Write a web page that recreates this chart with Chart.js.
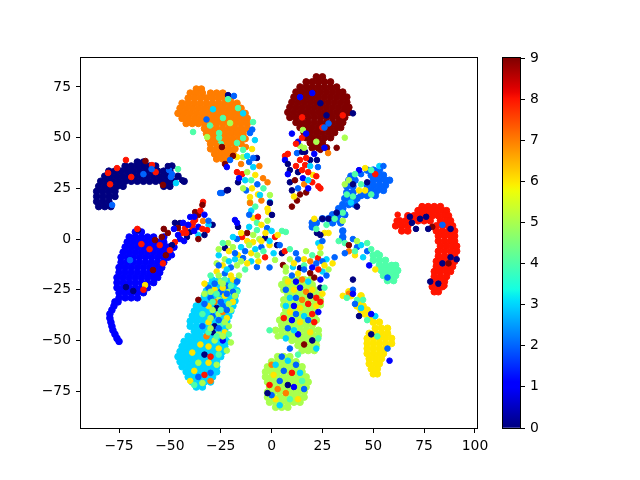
<!DOCTYPE html>
<html>
<head>
<meta charset="utf-8">
<script src="https://cdn.jsdelivr.net/npm/chart.js@4"></script>
<style>
  body { margin: 0; background: #fff; }
  canvas { position: absolute; left: 0; top: 0; }
</style>
</head>
<body>
<canvas id="scatter" width="640" height="480"></canvas>
<canvas id="colorbar" width="640" height="480"></canvas>
<script>
var xTicks = [-75,-50,-25,0,25,50,75,100];
var yTicks = [-75,-50,-25,0,25,50,75];
var barTicks = [0,1,2,3,4,5,6,7,8,9];

// dense part of each class, one row per line: y first, then the x values on it
var core0 = [[16,-85,-82,-79],[18.5,-86,-83,-80],[21,-86,-83,-80,-77],[23.5,-86,-83,-80,-77],[26,-85,-82,-79,-76,-73,-53,-50],[28.5,-84,-81,-78,-75,-72,-69,-66,-63,-60,-57,-54,-51,-48,-43],[31,-82,-79,-76,-73,-70,-67,-64,-61,-58,-55,-52,-46],[33.5,-80,-77,-74,-71,-68,-65,-62,-59,-56,-53,-50],[36,-72,-69,-66,-63,-60,-57,-49],[38,-66,-63]];
var core1 = [[3.5,-67,-64],[1,-70,-67,-64,-61,-58,-53],[-1.5,-71,-68,-65,-62,-59,-56,-53],[-4,-72,-69,-66,-63,-60,-57,-54,-51,-48],[-6.5,-73,-70,-67,-64,-61,-58,-55,-52,-50],[-9,-74,-71,-68,-65,-62,-59,-56,-53,-51],[-11.5,-74,-71,-68,-65,-62,-59,-56,-53],[-14,-75,-72,-69,-66,-63,-60,-57,-54],[-16.5,-75,-72,-69,-66,-63,-60,-57,-55],[-19,-76,-73,-70,-67,-64,-61,-58,-56],[-21.5,-76,-73,-70,-67,-64,-61,-58],[-24,-76,-73,-70,-67,-64,-61],[-26.5,-75,-72,-69,-66,-63],[-29,-75,-72,-69,-66],[-31,-77,-75.5],[-33,-77.5],[-35,-78.5],[-37,-79.5],[-39,-79.5],[-41,-79],[-43,-78.5],[-45,-78],[-47,-77],[-49,-76],[-50.5,-75]];
var core2 = [[34,47,50,53],[31.5,49,52,55],[29,50,53,56,58],[26.5,47,50,53,56],[24,49,52,55],[21.5,44,47,51],[31,39],[29,41,38],[26,40,37],[23,40,37],[20,36,39,42],[17,35,38,41],[15,35,33],[12,30,33,36],[10,25,28,32],[8,20,22,30,34],[6,20],[4,35],[1,35]];
var core3 = [[-73,-37,-34],[-70.5,-39,-36,-33,-30],[-68,-41,-38,-35,-32,-29],[-65.5,-42,-39,-36,-33,-30,-27],[-63,-44,-41,-38,-35,-32,-29,-27],[-60.5,-45,-42,-39,-36,-33,-30,-27],[-58,-46,-43,-40,-37,-34,-31,-28,-25],[-55.5,-45,-42,-39,-36,-33,-30,-27,-24],[-53,-44,-41,-38,-35,-32,-29,-26,-23],[-50.5,-43,-40,-37,-34,-31,-28,-25,-22],[-48,-41,-38,-35,-32,-29,-26,-23],[-45.5,-38,-35,-32,-29,-26,-23],[-43,-40,-37,-34,-31,-28,-25,-22],[-40.5,-40,-37,-34,-31,-28,-25,-22],[-38,-39,-36,-33,-30,-27,-24,-21],[-35.5,-38,-35,-32,-29,-26,-23,-20],[-33,-37,-34,-31,-28,-25,-22,-19],[-30.5,-35,-32,-29,-26,-23,-20,-18],[-28,-33,-30,-27,-24,-21,-18],[-25.5,-32,-29,-26,-23,-20,-17],[-23,-31,-28,-25,-22,-19],[-20.5,-29,-26,-23,-20,-17]];
var core4 = [[-8,50,53],[-10.5,50,53,56],[-13,53,56,59,61],[-15.5,54,57,60,62],[-18,55,58,61],[-20.5,57,60]];
var core5 = [[-83,2,5,8],[-80.5,-1,2,5,8,11,14],[-78,-2,1,4,7,10,13,16],[-75.5,-2,1,4,7,10,13,16],[-73,-1,2,5,8,11,14,17],[-70.5,-2,1,4,7,10,13,16,18],[-68,-3,0,3,6,9,12,15,17],[-65.5,-3,0,3,6,9,12,15],[-63,-2,1,4,7,10,13,15],[-60.5,0,3,6,9,12],[-58,3,6,9],[-55,15,18,21],[-52.5,13,16,19,22],[-50,10,13,16,19,22],[-47.5,5,8,11,14,17,20,23],[-45,2,5,8,11,14,17,20,23],[-42.5,5,8,11,14,17,20],[-40,4,7,10,13,16,19,22],[-37.5,6,9,12,15,18,21],[-35,7,10,13,16,19,21],[-32.5,6,9,12,15,18,21,24],[-30,6,9,12,15,18,21,24],[-27.5,8,11,14,17,20,23],[-25,6,9,12,15,18,21],[-22.5,5,8,11,14,17,20],[-20,7,10,13,16,19]];
var core6 = [[-44,51,54,57],[-46.5,48,51,54,57],[-49,47,50,53,56,59],[-51.5,47,50,53,56,59],[-54,47,50,53,56],[-56.5,47,50,53,55],[-59,48,51,54],[-61.5,48,51,53],[-64,49,52],[-66.5,50,52],[-41,50,53],[-39,49],[-37,48,46],[-35,47,44],[-33,45,42],[-31,43],[-28,44,39],[-26,38]];
var core7 = [[74,-37,-34.5],[72,-40,-37,-34,-30,-27,-24],[69.5,-41,-38,-35,-32,-29,-26,-23,-20],[67,-44,-41,-38,-35,-32,-29,-26,-23,-20,-17],[64.5,-45,-42,-39,-36,-33,-30,-27,-24,-21,-18,-15],[62,-46,-43,-40,-37,-34,-31,-28,-25,-22,-19,-16,-13],[59.5,-44,-41,-38,-35,-32,-29,-26,-23,-20,-17,-14,-12],[57,-42,-39,-36,-33,-30,-27,-24,-21,-18,-15,-12],[54.5,-33,-30,-27,-24,-21,-18,-15,-12],[52,-32,-29,-26,-23,-20,-17,-14],[49.5,-31,-28,-25,-22,-19,-16,-13],[47,-30,-27,-24,-21,-18,-15],[44.5,-30,-27,-24,-21,-18],[42,-28,-25,-22,-19],[39.5,-27,-24,-21]];
var core8 = [[16,74,77,80,83],[14,72,75,78,81,84,86],[11.5,67,70,73,76,79,82,85,87],[9,63,66,69,72,75,78,83,86,88],[6.5,61,64,67,81,84,87,89],[4,64,67,81,84,87,90],[1.5,82,85,88,90],[-1,82,85,88,90],[-3.5,83,86,89,91],[-6,82,85,88,91],[-8.5,82,85,88,90],[-11,81,84,87,90],[-13.5,81,84,87,89],[-16,80,83,86,88],[-18.5,80,83,86],[-21,79,82,85],[-23.5,79,82,84],[-26,80,82]];
var core9 = [[80,22,25],[77.5,17,20,23,26,29],[75,14,17,20,23,26,29,32],[72.5,12,15,18,21,24,27,30,33,35],[70,11,14,17,20,23,26,29,32,35,37],[67.5,10,13,16,19,22,25,28,31,34,37],[65,9,12,15,18,21,24,27,30,33,36,38],[62.5,8,11,14,17,20,23,26,29,32,35,38],[60,9,12,15,18,21,24,27,30,33,36],[57.5,12,15,18,21,24,27,30,33,35],[55,14,17,20,23,26,29,32,34],[52.5,16,19,22,25,28,31],[50,17,20,23,26,29],[47.5,19,22,25],[45,20,23,27]];

// scattered points drawn over the dense parts: x, y, class
var strays = [
[-80.4,32.6,8],[-76,35,8],[-71.6,39,8],[-69,30.6,8],[-79.4,27,8],[-58.8,36.5,8],[-57,33,8],[-62,38.5,9],[-53.4,26.7,9],[-78.4,16.8,2],[-63,32,2],[-50.4,34,2],[-49.5,30.6,2],[-59,34.5,2],[-46,34.5,4],[-47,27.6,3],[-51,36,0],[-49,32,2],[-55,30,0],[-44,29,0],
[-33.7,18.3,8],[-34,16.8,9],[-37.6,13.3,9],[-36,11.9,9],[-40,10.9,1],[-37.6,9.4,8],[-33.7,8.9,7],[-29,7,0],[-31,7,3],[-31.7,4.4,8],[-36,6,1],[-36,2,3],[-36,0,9],[-42.5,5.4,8],[-45,7.9,0],[-47.5,8,0],[-43.5,8,1],[-46,5.4,9],[-41.6,1,0],[-45,0,1],[-47.5,-1.5,8],[-49,-8,1],[-49,-3,0],[-40,3.5,0],[-38.6,8,8],[-39,6,8],[-42,3,8],[-35,14,8],[-38,11,1],[-41,7,1],[-44,3,8],[-46,2,1],[-33,12,1],[-34,5,8],[-38,4,1],[-33,2,0],[-31,9,2],[-43,-1,1],[-51,3,9],[-48,5,1],[-53,5,9],
[-57.3,-0.5,9],[-54,1,9],[-58.3,-15.3,9],[-64,-2.5,8],[-53.4,-12,8],[-50,-5.5,8],[-62.2,-22.7,6],[-68,-25.6,0],[-71.6,-23.7,0],[-69.6,-10.4,2],[-65.6,4.5,0],[-66,5,8],[-63,-25,8],[-52,-8,9],[-55,-3,8],[-60,-5,8],[-56,-9,1],
[-30.3,56,4],[-23.9,59.7,4],[-16.5,64.6,4],[-38.6,52.8,4],[-31.7,50.3,5],[-25.8,52.3,4],[-25.8,50,4],[-20.4,57.2,5],[-14,62,3],[-14,49.8,4],[-17,47.4,4],[-12.6,45.4,7],[-9.1,57.7,4],[-8.2,48.8,3],[-10.6,52.3,2],[-9.5,54,2],[-21.4,71,0],[-18.5,70.6,2],[-21.4,69,4],[-32,59,2],[-28.8,64,3],[-25,47,4],[-27,46,7],
[-24.4,45.4,9],[-22.9,37,9],[-22,35.5,1],[-17,40.5,6],[-19,41,9],[-20.4,39,2],[-14,40.5,5],[-9.6,44.4,6],[-7.2,40,0],[-17,33,8],[-14.5,32,8],[-16.5,28,0],[-12,33,5],[-9,35.5,3],[-8,31.6,6],[-4.2,30,7],[-12.5,24,2],[-9.6,25,6],[-6.7,22,6],[-4,25,4],[-14,25,5],[-21.4,24.2,0],[-24.4,22.7,2],[-10.6,18.3,5],[-0.8,18.3,3],[-5,19,7],[-16,30,1],[-13,29,3],[-10,29,4],[-7,27,2],[-2,28,7],[-15,37,7],[-11,38,2],[-6,36,7],[-9,40,2],[-14,44,4],[-12,41,3],
[-25.3,22.7,2],[-22,24,0],[-10.6,20.7,6],[-5.7,21.7,3],[-0.8,21.7,5],[-10.6,17.8,7],[-0.8,17.8,0],[-2,15,6],[-9,10.4,6],[-6.7,11,8],[-1.7,13.3,6],[0.2,11.9,0],[-7.2,8,4],[-16.5,6,0],[-18,9.4,1],[-17,8,1],[-10,14,3],[-8,16,4],[-11,12,2],
[-14.5,1,8],[-12,3,9],[-7.2,4.4,4],[-3.2,0.5,0],[-2.2,5.4,2],[1.7,1,8],[5.1,4,4],[7,3.5,4],[2.7,-3,0],[-6,0,5],[-9.1,-1.5,6],[-12,-1,6],[-17,0,2],[-21.4,-2,5],[-22.9,-4.4,0],[-21,-6,6],[-16.5,-8,6],[-14,-9.4,2],[-10,-7,6],[-3.2,-9,8],[1.7,-10.3,5],[5.1,-7,0],[6.5,-6,8],[5.6,-12.8,9],[9,-10,5],[-7.2,-13.8,2],[-6.5,-11,6],[10.5,-13.8,3],[14,-14.3,0],[17,-6,5],[19,-16.8,9],[19,-11,7],[22.8,-9.4,8],[21.4,8.4,2],[22.3,3,0],[23,-2,3],[-19,1,3],[-15,-4,3],[-11,-3,5],[-8,-5,3],[-5,-4,2],[-1,-3,6],[-3,3,6],[-18,-10,3],[-23,-10,5],[-20,-14,2],[-17,-13,5],[-13,-15,4],[-10,-11,3],[-26,-8,3],[1,-7,3],[4,-3,2],[-1,-14,2],
[-24,-2,4],[-26,-5,5],[-19,-4,5],[-13,-6,2],[-7,-8,5],[-4,-6,4],[-1,-1,3],[-9,2,5],[-15,3,6],[-18,-7,2],[-21,-11,3],[-24,-13,6],[-27,-12,5],[-15,-11,5],[-12,-12,6],[-5,-1,6],[0,4,3],[3,2,6],[-11,6,3],[-5,7,6],[-2,9,5],
[13,-10,2],[16,-10,6],[20,-8,4],[24,-7,5],[27,-10,3],[30,-12,6],[12,-7,2],[9,-5,4],[7,-14,5],[16,-13,4],[22,-12,2],[25,-11,2],[28,-15,5],[11,-12,6],[25,-16,3],
[-27,-16,6],[-23,-17,2],[-20,-18,6],[-16,-18,5],[-29,-20,3],[-25,-21,5],[-22,-23,2],[-18,-22,3],[-31,-24,2],[-28,-25,6],[-25,-26,2],[-21,-26,5],[-17,-26,4],[-33,-27,5],[-30,-29,2],[-26,-30,5],[-23,-28,6],[-19,-31,6],[-36,-30,9],[-31,-33,6],[-27,-34,0],[-24,-33,2],[-20,-35,5],[-34,-37,4],[-29,-38,2],[-26,-37,5],[-22,-39,6],[-31,-41,6],[-28,-43,0],[-25,-42,4],[-21,-43,5],[-29,-46,0],[-26,-47,5],[-23,-46,6],[-32,-48,7],[-28,-50,5],[-24,-50,1],[-20,-51,5],[-35,-52,6],[-31,-53,6],[-26,-54,6],[-22,-55,5],[-39,-56,6],[-33,-57,0],[-30,-58,8],[-26,-57,4],[-42,-60,3],[-36,-61,5],[-31,-61,6],[-27,-62,5],[-38,-65,6],[-33,-67,8],[-30,-66,2],[-36,-68,2],[-40,-70,6],[-34,-71,5],[-30,-70,7],[-38,-72,4],
[-28,-31,7],[-24,-36,7],[-31,-46,4],[-37,-46,3],[-19,-26,2],[-24,-24,6],[-33,-22,6],[-30,-18,4],[-22,-15,3],[-26,-13,2],
[-26,-18,5],[-23,-20,4],[-19,-20,6],[-28,-22,2],[-24,-22,5],[-20,-23,4],[-17,-21,2],[-30,-26,5],[-27,-27,4],[-22,-27,2],[-18,-28,5],[-29,-31,4],[-25,-31,2],[-21,-32,5],[-33,-32,2],[-29,-35,5],[-25,-35,4],[-22,-35,2],[-30,-39,5],[-26,-40,2],[-23,-41,5],[-34,-43,2],[-30,-44,5],[-26,-44,2],[-27,-48,4],[-24,-48,5],[-21,-47,4],
[7,-16,5],[10,-18,2],[13,-17,6],[16,-15,2],[20,-14,1],[23,-15,8],[26,-13,6],[8,-21,6],[12,-21,1],[15,-20,7],[18,-21,3],[21,-19,9],[24,-20,1],[27,-18,2],[7,-25,2],[11,-25,6],[14,-24,1],[17,-26,7],[20,-25,6],[24,-24,0],[26,-24,4],[9,-29,3],[12,-29,2],[15,-30,7],[19,-28,0],[22,-29,8],[25,-27,6],[7,-33,3],[11,-33,1],[14,-34,6],[18,-32,8],[22,-33,6],[24,-31,8],[9,-36,6],[12,-37,2],[16,-38,3],[20,-37,8],[23,-36,1],[6,-39,8],[10,-40,1],[14,-41,6],[18,-40,2],[21,-41,8],[8,-44,2],[13,-47,1],[19,-46,6],[23,-49,4],[3,-48,5],[7,-49,3],[16,-52,9],[20,-50,0],[22,-54,3],[11,-45,3],[-1,-45,4],
[9,-54,2],[13,-57,4],[5,-58,2],[0,-62,7],[2,-62,3],[8,-60,3],[12,-62,2],[6,-65,2],[10,-66,8],[14,-66,3],[1,-67,6],[4,-70,2],[8,-72,0],[11,-73,1],[15,-70,4],[-1,-72,8],[3,-74,7],[7,-76,7],[12,-76,5],[2,-79,6],[0,-77,2],[4,-82,3],[9,-79,4],[13,-79,6],[16,-74,2],[-2,-76,0],
[53,36,3],[46,35,6],[51,32,8],[49,34,4],[44,32,2],[43,34,1],[47,28,0],[55,36,2],[49,22,4],[41,32,4],[38,29,5],[43,24,6],[44,27,4],[46,24,6],[40,21,4],[37,22,4],[36,27,5],[40,27,0],[39,18,3],[42,16,0],[35,13,4],[32,13,0],[28,10,0],[25,10,0],[27,7,4],[31,10,4],[35,9,5],[21,10,6],[28,3,6],[26,3,6],[24,2,0],[25,-1,2],[22,5,4],[24,-4,6],[35,0,2],
[33,-1,4],[36,-2,4],[38,-3,9],[40,0,2],[42,-4,2],[44,-3,3],[47,-6,2],[38,-6,7],[36,-7,2],[41,-8,6],[31,-9,2],[45,-9,3],[51,-15,6],[48,-13,1],[57,-19,2],[41,-6,4],[49,-5,4],[52,-7,4],[47,-2,4],[42,-1,5],
[61.5,9,8],[62,12,8],[73,10,0],[69,8,0],[71,5,0],[68,11,0],[76,11,0],[79,6,9],[84,7,2],[77,5,0],[88,5,0],[84,-12,0],[88,-9,0],[87,-12,9],[75,14,8],[91,-10,0],[82,-22,0],[78,-21,0],[85,-23,8],[82,-16,8],
[40,-20,0],[40,-25,2],[38,-27,7],[35,-28,6],[37,-29,4],[40,-27,1],[42,-30,4],[45,-30,4],[41,-32,2],[44,-34,3],[47,-40,4],[51,-38,3],[43,-38,0],[49,-37,1],[57,-54,2],[52,-48,4],[49,-47,0],[58,-60,1],
[6.6,41,8],[8,42,8],[6.6,39,1],[12.5,42.4,2],[16.5,43,0],[14,46,5],[15.4,53.8,5],[27.8,42.4,7],[32,45,9],[22.8,35.5,2],[20.4,31.6,6],[24,25,8],[23,26,8],[17,23,9],[10,24,0],[10,16,9],[12.5,19,9],[9,28,0],[11.5,29,9],[9,34,0],[8,32,1],[13,33,0],[16.5,36.5,8],[14,39,8],[19,39,0],[22.3,39,0],[15.4,30,1],[18,33,8],[20,28,8],[16,27,7],[13,25,2],[11,21,6],[14,22,9],[18,25,1],[15,34,8],[17,40,8],[21,42,1],[24,44,9],[26,45,1],[8,37,0],[18,29,3],[12,36,8],[19,36,3],[22,31,8],[15,43,0],
[25,55,8],[10,52,1],[13,48,1],[15,50,8],[12,47,8],[16,45,5],[17,52,1],[22,48,5],[26,55,2],[14,70,1],[20,72,1],[24,67,0],[35,61,8],[36,50,5],[40,62,0],[15,60,8],[27,61,0],[28,57,2]
];

function jet(v) {
  function ramp(stops) {
    for (var i = 1; i < stops.length; i++) {
      if (v <= stops[i][0]) {
        var t = (v - stops[i-1][0]) / (stops[i][0] - stops[i-1][0]);
        return Math.round(255 * (stops[i-1][1] + t * (stops[i][1] - stops[i-1][1])));
      }
    }
    return 0;
  }
  var r = ramp([[0,0],[0.35,0],[0.66,1],[0.89,1],[1,0.5]]);
  var g = ramp([[0,0],[0.125,0],[0.375,1],[0.64,1],[0.91,0],[1,0]]);
  var b = ramp([[0,0.5],[0.11,1],[0.34,1],[0.65,0],[1,0]]);
  return "rgb(" + r + "," + g + "," + b + ")";
}

function rowsToPoints(rows) {
  var pts = [];
  rows.forEach(function(row) {
    for (var i = 1; i < row.length; i++) {
      pts.push({x: row[i], y: row[0]});
    }
  });
  return pts;
}

// first dataset is painted last, so the strays go first to sit on top
var datasets = [{
  data: strays.map(function(p) { return {x: p[0], y: p[1]}; }),
  backgroundColor: strays.map(function(p) { return jet(p[2] / 9); }),
  borderColor: strays.map(function(p) { return jet(p[2] / 9); }),
  pointRadius: 2.8
}];
var cores = [core0, core1, core2, core3, core4, core5, core6, core7, core8, core9];
cores.forEach(function(rows, c) {
  datasets.push({data: rowsToPoints(rows), backgroundColor: jet(c / 9), borderColor: jet(c / 9), pointRadius: 3.3});
});

var tickFont = {family: "'DejaVu Sans'", size: 13.9};
var tickGrid = {display: true, drawOnChartArea: false, drawTicks: true, tickLength: 5, tickWidth: 1, tickColor: "#000", color: "#000"};

function minusLabel(v) {
  return String(v).replace("-", "\u2212");
}

var frame = {
  id: "frame",
  afterDraw: function(chart) {
    var a = chart.chartArea, ctx = chart.ctx;
    ctx.save();
    ctx.strokeStyle = "#000";
    ctx.lineWidth = 1;
    ctx.strokeRect(Math.round(a.left) - 0.5, Math.round(a.top) - 0.5, Math.round(a.right - a.left) + 1, Math.round(a.bottom - a.top) + 1);
    ctx.restore();
  }
};

new Chart(document.getElementById("scatter"), {
  type: "scatter",
  data: {datasets: datasets},
  options: {
    responsive: false,
    animation: false,
    layout: {padding: {left: 0, top: 58, right: 163, bottom: 0}},
    plugins: {legend: {display: false}, tooltip: {enabled: false}},
    elements: {point: {borderWidth: 1}},
    scales: {
      x: {
        type: "linear", min: -93.7, max: 101,
        grid: tickGrid, border: {display: false},
        afterBuildTicks: function(axis) { axis.ticks = xTicks.map(function(v) { return {value: v}; }); },
        afterFit: function(axis) { axis.height = 52; },
        ticks: {font: tickFont, color: "#000", padding: 5, maxRotation: 0, autoSkip: false, callback: minusLabel}
      },
      y: {
        type: "linear", min: -93.2, max: 89.3,
        grid: tickGrid, border: {display: false},
        afterBuildTicks: function(axis) { axis.ticks = yTicks.map(function(v) { return {value: v}; }); },
        afterFit: function(axis) { axis.width = 81; },
        ticks: {font: tickFont, color: "#000", padding: 5, autoSkip: false, callback: minusLabel}
      }
    }
  },
  plugins: [frame]
});

// colour bar: one floating bar filled with the jet ramp
var barCanvas = document.getElementById("colorbar");
var barGrad = barCanvas.getContext("2d").createLinearGradient(0, 428, 0, 58);
for (var i = 0; i <= 64; i++) {
  barGrad.addColorStop(i / 64, jet(i / 64));
}

new Chart(barCanvas, {
  type: "bar",
  data: {labels: ["c"], datasets: [{data: [[0, 9]], backgroundColor: barGrad, barPercentage: 1, categoryPercentage: 1}]},
  options: {
    responsive: false,
    animation: false,
    layout: {padding: {left: 503, top: 58, right: 80, bottom: 52}},
    plugins: {legend: {display: false}, tooltip: {enabled: false}},
    scales: {
      x: {display: false},
      y: {
        position: "right", min: 0, max: 9,
        grid: tickGrid, border: {display: false},
        afterBuildTicks: function(axis) { axis.ticks = barTicks.map(function(v) { return {value: v}; }); },
        afterFit: function(axis) { axis.width = 40; },
        ticks: {font: tickFont, color: "#000", padding: 5, autoSkip: false}
      }
    }
  },
  plugins: [frame]
});
</script>
</body>
</html>
